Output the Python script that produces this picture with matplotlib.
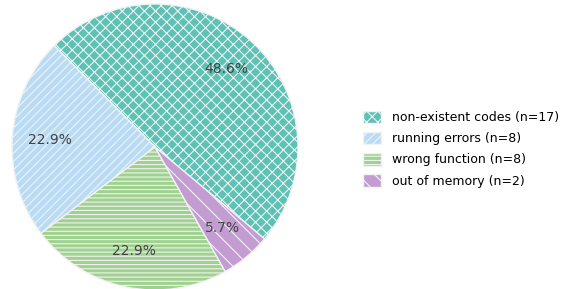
import matplotlib
matplotlib.use('Agg')
import matplotlib.pyplot as plt

# data
labels = ['non-existent codes', 'running errors', 'wrong function', 'out of memory']
counts = [17, 8, 8, 2]
colors = ['#5cc2b6', '#b9dcf6', '#9fd18f', '#c39cd2']
hatches = ['xxx', '////', '----', '\\\\']

plt.rcParams['hatch.color'] = 'white'
plt.rcParams['hatch.linewidth'] = 0.8

fig = plt.figure(figsize=(5.69, 2.89), dpi=100)
W, H = 569, 289
cx, cy, r = 155, 147, 143
lim = 1.03
ax = fig.add_axes([(cx - r * lim) / W, (H - cy - r * lim) / H, 2 * r * lim / W, 2 * r * lim / H])

wedges, texts, autotexts = ax.pie(
    counts, colors=colors, startangle=-40, autopct='%1.1f%%', pctdistance=0.74,
    wedgeprops=dict(edgecolor='#f2f2f2', linewidth=1.0),
    textprops=dict(color='#444444', fontsize=10))
for w, h in zip(wedges, hatches):
    w.set_hatch(h)
ax.set_xlim(-lim, lim)
ax.set_ylim(-lim, lim)
ax.set_aspect('equal')

legend_labels = [f"{l} (n={c})" for l, c in zip(labels, counts)]
fig.legend(wedges, legend_labels, loc='center left', bbox_to_anchor=(352 / W, (H - 149) / H),
           frameon=False, fontsize=9, handlelength=1.4, handleheight=1.2,
           labelspacing=0.6, handletextpad=0.9)

fig.savefig('out.png', dpi=100)
